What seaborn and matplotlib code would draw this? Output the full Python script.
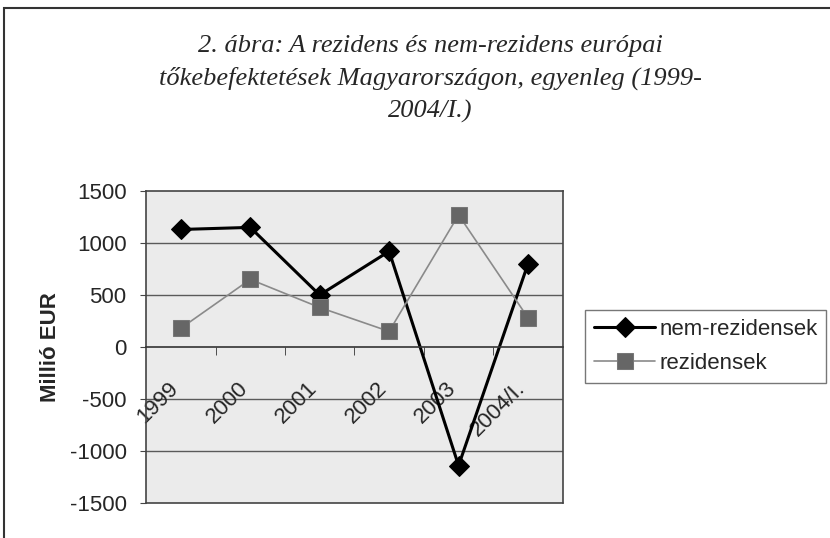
import matplotlib
matplotlib.use("Agg")
import matplotlib.pyplot as plt
import matplotlib.transforms as mtransforms
from matplotlib.patches import Rectangle
import pandas as pd
import seaborn as sns

# =========================================================
# DATOS
# =========================================================
evek = ["1999", "2000", "2001", "2002", "2003", "2004/I."]
nem_rezidensek = [1130, 1150, 500, 920, -1140, 800]
rezidensek = [180, 650, 380, 150, 1270, 280]

cim = ("2. ábra: A rezidens és nem-rezidens európai\n"
       "tőkebefektetések Magyarországon, egyenleg (1999-\n"
       "2004/I.)")

df = pd.DataFrame({"ev": evek, "nem": nem_rezidensek, "rez": rezidensek})

# =========================================================
# ÁBRA
# =========================================================
sns.set_style("white")
plt.rcParams["font.family"] = ["Liberation Sans", "DejaVu Sans"]

fig = plt.figure(figsize=(8.3, 5.38), dpi=100)
ax = fig.add_axes([0.176, 0.065, 0.502, 0.58])
ax.set_facecolor("#ebebeb")

sns.lineplot(data=df, x="ev", y="nem", ax=ax, color="black", linewidth=2.2,
             marker="D", markersize=10, markeredgecolor="black",
             label="nem-rezidensek", sort=False)
sns.lineplot(data=df, x="ev", y="rez", ax=ax, color="#8a8a8a", linewidth=1.2,
             marker="s", markersize=11, markerfacecolor="#666666",
             markeredgecolor="#777777", label="rezidensek", sort=False)

# tengelyek
ax.set_xlim(-0.5, len(evek) - 0.5)
ax.set_ylim(-1500, 1500)
ax.set_yticks([-1500, -1000, -500, 0, 500, 1000, 1500])
ax.set_yticklabels(["-1500", "-1000", "-500", "0", "500", "1000", "1500"])
ax.tick_params(axis="y", labelsize=16, length=4, pad=10, color="#444444",
               left=True)

for v in [-1000, -500, 500, 1000]:
    ax.axhline(v, color="#5a5a5a", linewidth=1.0, zorder=0.5)
ax.axhline(-1500, color="#444444", linewidth=1.2, clip_on=False)

for s in ["top", "left", "right"]:
    ax.spines[s].set_color("#444444")
    ax.spines[s].set_linewidth(1.2)
ax.spines["bottom"].set_position(("data", 0))
ax.spines["bottom"].set_color("#333333")
ax.spines["bottom"].set_linewidth(1.2)

ax.set_xticks(range(len(evek)))
ax.set_xticklabels(evek, rotation=45, ha="right", rotation_mode="anchor")
ax.set_xticks([i + 0.5 for i in range(len(evek) - 1)], minor=True)
ax.tick_params(axis="x", which="major", length=0, labelsize=16, pad=22,
               bottom=True)
ax.tick_params(axis="x", which="minor", length=6, color="#333333",
               bottom=True, direction="out")
eltolas = mtransforms.ScaledTranslation(-0.13, 0, fig.dpi_scale_trans)
for lbl in ax.get_xticklabels():
    lbl.set_transform(lbl.get_transform() + eltolas)

ax.set_xlabel("")
ax.set_ylabel("Millió EUR", fontsize=16, fontweight="bold", labelpad=6)

ax.legend_.remove()
h, l = ax.get_legend_handles_labels()
fig.legend(h, l, loc="upper left", bbox_to_anchor=(0.705, 0.424),
           fontsize=16, frameon=True, fancybox=False, edgecolor="#555555",
           handlelength=2.75, handletextpad=0.18, labelspacing=0.6,
           borderpad=0.4, borderaxespad=0)

fig.text(0.518, 0.935, cim, ha="center", va="top", fontsize=19,
         family="Liberation Serif", style="italic", linespacing=1.55)

# keret
fig.patches.append(Rectangle((0.005, -0.05), 1.05, 1.035,
                             transform=fig.transFigure, fill=False,
                             edgecolor="#333333", linewidth=1.5))

fig.savefig("out.png", dpi=100)
